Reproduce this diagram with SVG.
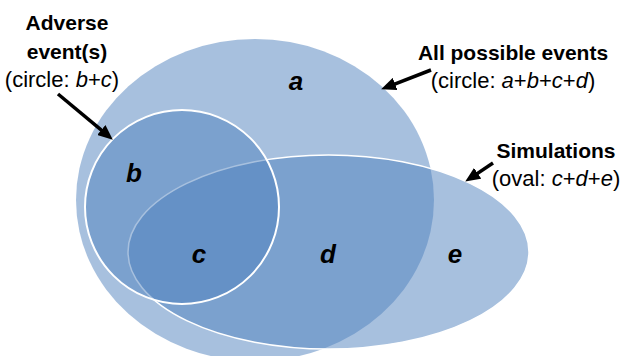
<svg xmlns="http://www.w3.org/2000/svg" width="621" height="356" viewBox="0 0 621 356">
  <defs>
    <style>
      .set { fill: #4f81bd; fill-opacity: 0.5; }
      .t { font-family: "Liberation Sans", Arial, sans-serif; font-size: 22px; fill: #000; text-anchor: middle; }
      .b { font-weight: bold; font-size: 21px; }
      .i { font-style: italic; }
      .region { font-family: "Liberation Sans", Arial, sans-serif; font-size: 26px; font-weight: bold; font-style: italic; fill: #000; text-anchor: middle; }
      .arrow { fill: none; stroke: #000; stroke-width: 3.5; marker-end: url(#head); }
    </style>
    <marker id="head" markerUnits="userSpaceOnUse" markerWidth="15" markerHeight="13" viewBox="0 0 15 13" refX="6" refY="6.5" orient="auto">
      <path d="M0,0 L15,6.5 L0,13 z" fill="#000"/>
    </marker>
  </defs>
  <rect width="621" height="356" fill="#fff"/>

  <g id="all-events">
    <ellipse class="set" cx="255" cy="200" rx="179" ry="161"/>
    <text class="t b" x="513" y="60">All possible events</text>
    <text class="t" x="513" y="88">(circle: <tspan class="i">a</tspan>+<tspan class="i">b</tspan>+<tspan class="i">c</tspan>+<tspan class="i">d</tspan>)</text>
  </g>

  <g id="simulations">
    <ellipse class="set" cx="328.5" cy="252" rx="200.5" ry="97" stroke="#fff" stroke-width="1.5"/>
    <text class="t b" x="556" y="158">Simulations</text>
    <text class="t" x="556" y="186">(oval: <tspan class="i">c</tspan>+<tspan class="i">d</tspan>+<tspan class="i">e</tspan>)</text>
  </g>

  <g id="adverse-events">
    <circle class="set" cx="182" cy="207" r="97" stroke="#fff" stroke-width="2"/>
    <text class="t b" x="67" y="30">Adverse</text>
    <text class="t b" x="67" y="59">event(s)</text>
    <text class="t" x="62" y="87">(circle: <tspan class="i">b</tspan>+<tspan class="i">c</tspan>)</text>
  </g>

  <g id="region-labels">
    <text class="region" x="296" y="90">a</text>
    <text class="region" x="134" y="182">b</text>
    <text class="region" x="199" y="263">c</text>
    <text class="region" x="328" y="263">d</text>
    <text class="region" x="455" y="263">e</text>
  </g>

  <g id="connectors">
    <path class="arrow" d="M58,94 L105.9,133.9"/>
    <path class="arrow" d="M431,70 L389.5,86.1"/>
    <path class="arrow" d="M493,163 L472.7,176.6"/>
  </g>
</svg>
